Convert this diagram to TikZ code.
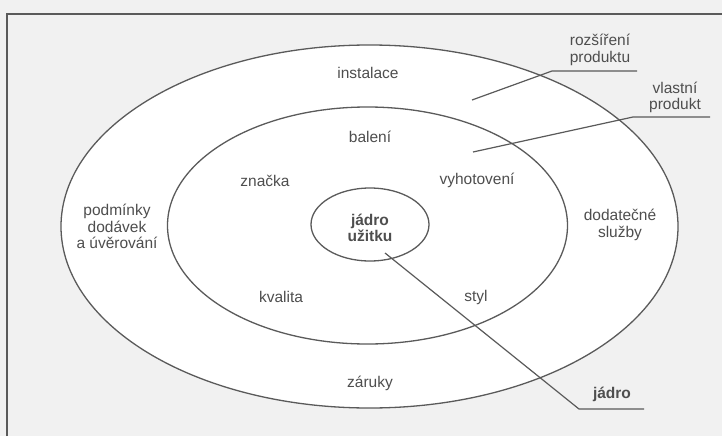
\documentclass[tikz,border=0pt]{standalone}
\usepackage{fontspec}
\setmainfont{Liberation Sans}
\usetikzlibrary{shapes.geometric}
\definecolor{txt}{HTML}{4E4E4E}
\definecolor{ln}{HTML}{5A5A5A}
\definecolor{bg}{HTML}{F1F1F1}
\tikzset{
  ring/.style={ellipse, draw=ln, line width=1.3pt, inner sep=0pt},
  lbl/.style={text=txt, align=center, inner sep=0pt, font=\fontsize{15.5}{16.5}\selectfont},
  lead/.style={draw=ln, line width=1.2pt},
  frame/.style={draw=ln, line width=1.2pt}
}
\begin{document}
\begin{tikzpicture}[x=1pt, y=-1pt]
\useasboundingbox (0,0) rectangle (722,436);
\fill[bg] (0,0) rectangle (722,436);
\coordinate (fTL) at (7,14);
\coordinate (fTR) at (722,14);
\coordinate (fBL) at (7,436);
\draw[frame] (fBL) -- (fTL) -- (fTR);

\node[ring, fill=white, minimum width=617pt, minimum height=363pt] (outer) at (369.5,226.5) {};
\node[ring, minimum width=400pt, minimum height=237pt] (middle) at (367.5,225.5) {};
\node[ring, minimum width=118pt, minimum height=73pt] (inner) at (370,224.5) {};

\node[lbl, font=\fontsize{15.5}{16.5}\selectfont\bfseries] (core) at (370,228) {jádro\\užitku};
\node[lbl] (instalace) at (368,73) {instalace};
\node[lbl] (zaruky) at (370,383) {záruky};
\node[lbl] (podminky) at (117,226.5) {podmínky\\dodávek\\a úvěrování};
\node[lbl] (dodatecne) at (620,225) {dodatečné\\služby};
\node[lbl] (baleni) at (370,137) {balení};
\node[lbl] (znacka) at (265,181) {značka};
\node[lbl] (vyhotoveni) at (477,180) {vyhotovení};
\node[lbl] (kvalita) at (281,297) {kvalita};
\node[lbl] (styl) at (476,297) {styl};

\node[lbl] (rozsireni) at (600,50) {rozšíření\\produktu};
\node[lbl] (vlastni) at (675,97.5) {vlastní\\produkt};
\node[lbl, font=\fontsize{15.5}{16.5}\selectfont\bfseries] (jadro) at (612,394) {jádro};

\coordinate (rozTip) at (472,100);
\coordinate (rozKnee) at (552,71);
\coordinate (rozEnd) at (637,71);
\coordinate (vlaTip) at (473,152);
\coordinate (vlaKnee) at (633,117);
\coordinate (vlaEnd) at (710,117);
\coordinate (jadTip) at (385,253);
\coordinate (jadKnee) at (579,409);
\coordinate (jadEnd) at (644,409);

\draw[lead] (rozTip) -- (rozKnee) -- (rozEnd);
\draw[lead] (vlaTip) -- (vlaKnee) -- (vlaEnd);
\draw[lead] (jadTip) -- (jadKnee) -- (jadEnd);
\end{tikzpicture}
\end{document}
